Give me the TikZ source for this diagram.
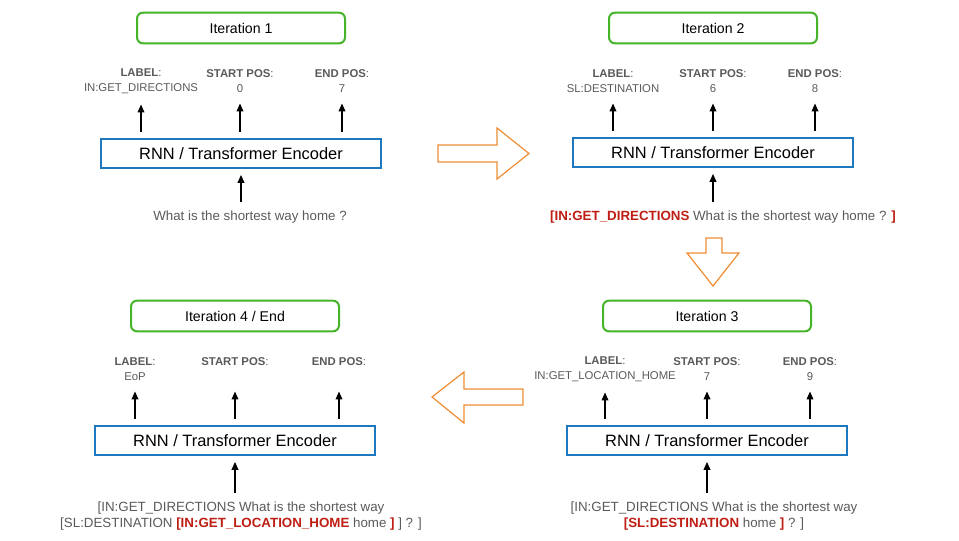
\documentclass[tikz,border=0pt]{standalone}
\usepackage{fontspec}
\setmainfont{Liberation Sans}
\usetikzlibrary{arrows.meta,positioning}
\definecolor{itgreen}{RGB}{70,180,40}
\definecolor{encblue}{RGB}{30,120,190}
\definecolor{bigorange}{RGB}{240,140,50}
\definecolor{tokred}{RGB}{190,30,20}
\definecolor{txtgray}{RGB}{90,90,90}
\newcommand{\hd}[1]{\textbf{#1}:}
\newcommand{\tok}[1]{\textcolor{tokred}{\textbf{#1}}}
\tikzset{
  iter/.style={draw=itgreen, line width=1.5pt, rounded corners=4.5pt,
    minimum width=156pt, minimum height=23pt, font=\fontsize{10.6}{12}\selectfont},
  enc/.style={draw=encblue, line width=1.5pt, minimum width=210pt,
    minimum height=21.5pt, font=\fontsize{12.3}{14}\selectfont},
  outlab/.style={align=center, text=txtgray, inner sep=1pt,
    font=\fontsize{8.5}{11.25}\selectfont},
  sent/.style={align=center, text=txtgray, inner sep=2pt,
    font=\fontsize{10}{12}\selectfont},
  up/.style={-{Triangle[length=6pt,width=5pt]}, line width=1.1pt},
  flow/.style={draw=bigorange, line width=0.9pt, fill=white}
}

\begin{document}
\begin{tikzpicture}[x=0.75pt,y=-0.75pt]
  \useasboundingbox (0,0) rectangle (959,540);

  % iteration 1
  \node[iter] (it1) at (241,28) {Iteration 1};
  \node[outlab] (lab1) at (141,81) {\hd{LABEL}\\IN:GET\_DIRECTIONS};
  \node[outlab] (sta1) at (240,81) {\hd{START POS}\\0};
  \node[outlab] (end1) at (342,81) {\hd{END POS}\\7};
  \node[enc] (enc1) at (241,153.5) {RNN / Transformer Encoder};
  \node[sent] (s1) at (250,217.5) {What is the shortest way home ?};
  \foreach \o in {lab1,sta1,end1}
    \draw[up,shorten <=4.5pt,shorten >=7pt] (\o |- enc1.north) -- (\o.south);
  \draw[up,shorten <=4.5pt,shorten >=4.5pt] (enc1.south |- s1.north) -- (enc1.south);

  % iteration 2
  \node[iter] (it2) at (713,28) {Iteration 2};
  \node[outlab] (lab2) at (613,81) {\hd{LABEL}\\SL:DESTINATION};
  \node[outlab] (sta2) at (713,81) {\hd{START POS}\\6};
  \node[outlab] (end2) at (815,81) {\hd{END POS}\\8};
  \node[enc] (enc2) at (713,152.5) {RNN / Transformer Encoder};
  \node[sent] (s2) at (723,217.5) {\tok{[IN:GET\_DIRECTIONS} What is the shortest way home ? \tok{]}};
  \foreach \o in {lab2,sta2,end2}
    \draw[up,shorten <=4.5pt,shorten >=7pt] (\o |- enc2.north) -- (\o.south);
  \draw[up,shorten <=4.5pt,shorten >=4.5pt] (enc2.south |- s2.north) -- (enc2.south);

  % iteration 3
  \node[iter] (it3) at (707,316) {Iteration 3};
  \node[outlab] (lab3) at (605,369) {\hd{LABEL}\\IN:GET\_LOCATION\_HOME};
  \node[outlab] (sta3) at (707,369) {\hd{START POS}\\7};
  \node[outlab] (end3) at (810,369) {\hd{END POS}\\9};
  \node[enc] (enc3) at (707,440.5) {RNN / Transformer Encoder};
  \node[sent] (s3) at (714,516) {[IN:GET\_DIRECTIONS What is the shortest way\\
    \tok{[SL:DESTINATION} home \tok{]} ? ]};
  \foreach \o in {lab3,sta3,end3}
    \draw[up,shorten <=4.5pt,shorten >=7pt] (\o |- enc3.north) -- (\o.south);
  \draw[up,shorten <=4.5pt,shorten >=4.5pt] (enc3.south |- s3.north) -- (enc3.south);

  % iteration 4 / end
  \node[iter] (it4) at (235,316) {Iteration 4 / End};
  \node[outlab] (lab4) at (135,369) {\hd{LABEL}\\EoP};
  \node[outlab] (sta4) at (235,369) {\hd{START POS}\\\phantom{0}};
  \node[outlab] (end4) at (339,369) {\hd{END POS}\\\phantom{0}};
  \node[enc] (enc4) at (235,440.5) {RNN / Transformer Encoder};
  \node[sent] (s4) at (241,516) {[IN:GET\_DIRECTIONS What is the shortest way\\
    {[}SL:DESTINATION \tok{[IN:GET\_LOCATION\_HOME} home \tok{]} ] ? ]};
  \foreach \o in {lab4,sta4,end4}
    \draw[up,shorten <=4.5pt,shorten >=7pt] (\o |- enc4.north) -- (\o.south);
  \draw[up,shorten <=4.5pt,shorten >=4.5pt] (enc4.south |- s4.north) -- (enc4.south);

  % big hollow arrows between the steps
  \draw[flow] (438,145) -- (497,145) -- (497,128) -- (529,153.5)
    -- (497,179) -- (497,162) -- (438,162) -- cycle;
  \draw[flow] (706,238) -- (722,238) -- (722,253) -- (739,253)
    -- (713,286) -- (687,253) -- (706,253) -- cycle;
  \draw[flow] (523,389) -- (464,389) -- (464,372) -- (432,397)
    -- (464,423) -- (464,405) -- (523,405) -- cycle;
\end{tikzpicture}
\end{document}
